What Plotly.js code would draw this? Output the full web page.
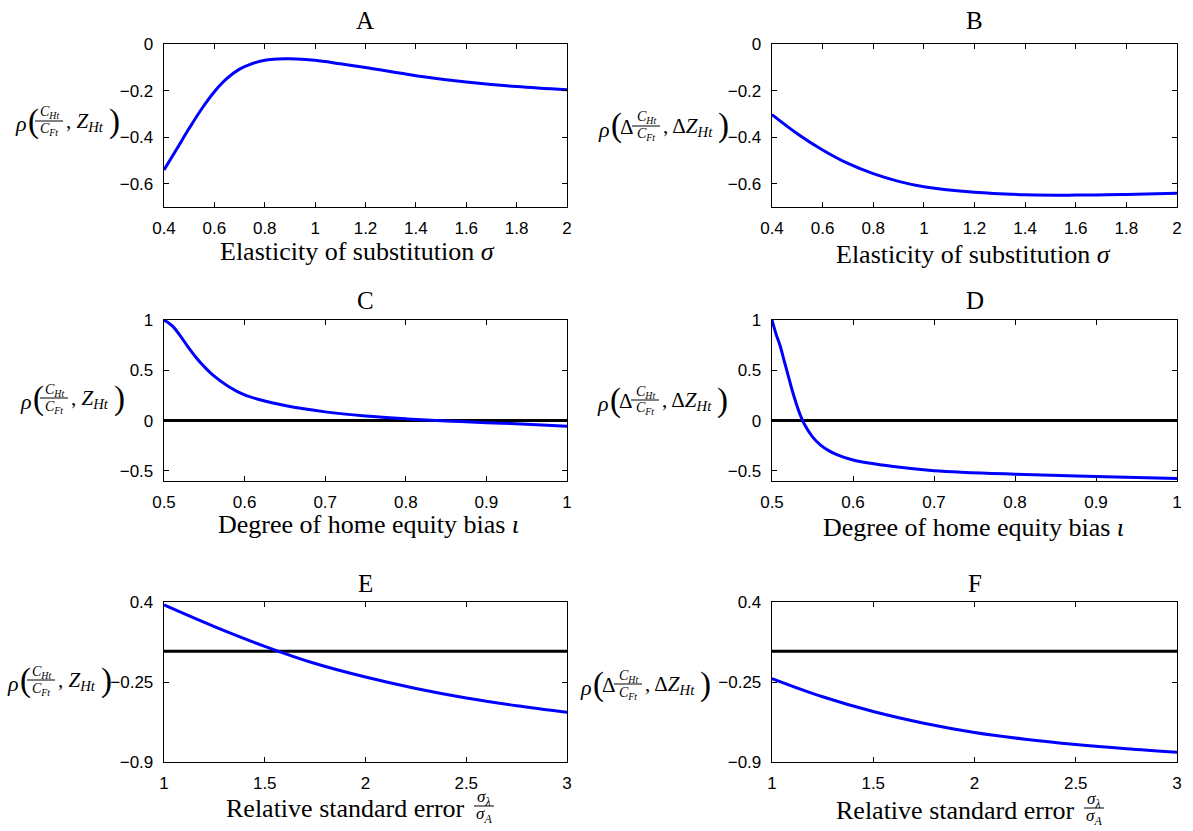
<!DOCTYPE html>
<html>
<head>
<meta charset="utf-8">
<script src="https://cdn.plot.ly/plotly-3.0.1.min.js"></script>
<style>body{margin:0;padding:0;background:#fff;}#chart{width:1193px;height:831px;}</style>
</head>
<body>
<div id="chart"></div>
<script>
// ---------- data ----------
const panelTitles = ['A', 'B', 'C', 'D', 'E', 'F'];

const sigmaA = [0.4, 0.45, 0.5, 0.55, 0.6, 0.65, 0.7, 0.75, 0.8, 0.85, 0.9, 1.0, 1.1, 1.2, 1.4, 1.6, 1.8, 2.0];
const rhoA   = [-0.541, -0.452, -0.362, -0.278, -0.205, -0.148, -0.108, -0.084, -0.07, -0.064, -0.063, -0.07, -0.085, -0.101, -0.136, -0.163, -0.183, -0.197];

const sigmaB = [0.4, 0.5, 0.6, 0.7, 0.8, 0.9, 1.0, 1.2, 1.4, 1.6, 1.8, 2.0];
const rhoB   = [-0.303, -0.385, -0.455, -0.513, -0.557, -0.59, -0.613, -0.637, -0.647, -0.649, -0.646, -0.641];

const iotaC = [0.5, 0.51, 0.52, 0.53, 0.54, 0.55, 0.56, 0.58, 0.6, 0.62, 0.65, 0.7, 0.75, 0.8, 0.85, 0.9, 0.95, 1.0];
const rhoC  = [1.0, 0.944, 0.845, 0.73, 0.625, 0.535, 0.458, 0.34, 0.255, 0.205, 0.15, 0.087, 0.046, 0.018, -0.003, -0.02, -0.036, -0.056];

const iotaD = [0.5, 0.505, 0.51, 0.515, 0.52, 0.525, 0.53, 0.535, 0.54, 0.55, 0.56, 0.57, 0.58, 0.6, 0.65, 0.7, 0.8, 0.9, 1.0];
const rhoD  = [1.0, 0.86, 0.744, 0.595, 0.447, 0.299, 0.168, 0.053, -0.036, -0.161, -0.243, -0.298, -0.338, -0.392, -0.457, -0.497, -0.533, -0.556, -0.576];

const ratioEF = [1, 1.25, 1.5, 1.75, 2, 2.25, 2.5, 2.75, 3];
const rhoE = [0.376, 0.2, 0.04, -0.1, -0.21, -0.303, -0.38, -0.443, -0.496];
const rhoF = [-0.222, -0.37, -0.49, -0.585, -0.66, -0.715, -0.758, -0.792, -0.82];

const zeroLineCD_x = [0.5, 1];
const zeroLineEF_x = [1, 3];
const zeroLine_y = [0, 0];

const xTicksAB = [0.4, 0.6, 0.8, 1, 1.2, 1.4, 1.6, 1.8, 2];
const yTicksAB = [0, -0.2, -0.4, -0.6];
const xTicksCD = [0.5, 0.6, 0.7, 0.8, 0.9, 1];
const yTicksCD = [1, 0.5, 0, -0.5];
const xTicksEF = [1, 1.5, 2, 2.5, 3];
const yTicksEF = [0.4, -0.25, -0.9];

const xTitleAB = 'Elasticity of substitution <i>σ</i>';
const xTitleCD = 'Degree of home equity bias <i>ι</i>';
const xTitleEF = 'Relative standard error';

// ---------- layout helpers ----------
const W = 1193, H = 831;
const SERIF = 'Liberation Serif, DejaVu Serif, serif';
const SANS = 'Liberation Sans, Arial, sans-serif';
const BLUE = 'rgb(0,0,255)';
const px = x => x / W;
const py = y => 1 - y / H;

const cols = [[164, 567], [772, 1177]];
const rows = [[44, 207], [320, 481], [602, 762]];
const titleY = [20, 300, 583];

function ann(x, y, text, size, extra) {
  return Object.assign({
    xref: 'paper', yref: 'paper', x: px(x), y: py(y), text: text,
    showarrow: false, xanchor: 'left', yanchor: 'middle',
    font: {family: SERIF, size: size, color: 'black'}
  }, extra || {});
}

const annotations = [];
const shapes = [];

function frac(cx, cy, num, den, halfw, size) {
  annotations.push(ann(cx, cy - 8, num, size, {xanchor: 'center'}));
  annotations.push(ann(cx, cy + 9, den, size, {xanchor: 'center'}));
  shapes.push({type: 'line', xref: 'paper', yref: 'paper',
    x0: px(cx - halfw), x1: px(cx + halfw), y0: py(cy), y1: py(cy),
    line: {color: 'black', width: 1}});
}

function rhoLabel(x0, yc, delta) {
  annotations.push(ann(x0, yc + 3, '<i>ρ</i>', 22));
  annotations.push(ann(x0 + 13, yc, '(', 33));
  let off = 22;
  if (delta) { annotations.push(ann(x0 + 22, yc + 1, 'Δ', 21)); off = 36; }
  const fc = x0 + off + 14;
  frac(fc, yc, '<i>C<sub>Ht</sub></i>', '<i>C<sub>Ft</sub></i>', 14, 14);
  annotations.push(ann(fc + 15, yc + 1, ',' + (delta ? ' Δ' : ' ') + '<i>Z<sub>Ht</sub></i>', 21));
  annotations.push(ann(fc + 15 + (delta ? 55 : 43), yc, ')', 33));
}

// ---------- traces ----------
const traces = [];
function line(x, y, color, axis) {
  traces.push({x: x, y: y, type: 'scatter', mode: 'lines', xaxis: 'x' + axis, yaxis: 'y' + axis,
    line: {color: color, width: 3, shape: 'spline', smoothing: 1}, hoverinfo: 'skip', showlegend: false});
}
line(sigmaA, rhoA, BLUE, '');
line(sigmaB, rhoB, BLUE, '2');
line(zeroLineCD_x, zeroLine_y, 'black', '3');
line(iotaC, rhoC, BLUE, '3');
line(zeroLineCD_x, zeroLine_y, 'black', '4');
line(iotaD, rhoD, BLUE, '4');
line(zeroLineEF_x, zeroLine_y, 'black', '5');
line(ratioEF, rhoE, BLUE, '5');
line(zeroLineEF_x, zeroLine_y, 'black', '6');
line(ratioEF, rhoF, BLUE, '6');

// ---------- axes ----------
const layout = {
  width: W, height: H, autosize: false,
  margin: {l: 0, r: 0, t: 0, b: 0, pad: 0},
  paper_bgcolor: 'white', plot_bgcolor: 'white',
  showlegend: false, annotations: annotations, shapes: shapes
};

const fmt = v => (v < 0 ? '\u2212' : '') + String(Math.abs(v));

function axisPair(i, xr, yr, xt, yt) {
  const c = cols[i % 2], r = rows[Math.floor(i / 2)];
  const common = {
    showline: true, linecolor: 'black', linewidth: 1.3, mirror: 'allticks',
    ticks: 'inside', ticklen: 5, tickwidth: 1, tickcolor: 'black',
    showgrid: false, zeroline: false, fixedrange: true,
    tickfont: {family: SANS, size: 17, color: 'black'}
  };
  const n = i === 0 ? '' : String(i + 1);
  layout['xaxis' + n] = Object.assign({}, common, {
    domain: [px(c[0]), px(c[1])], range: xr, tickvals: xt, ticktext: xt.map(fmt),
    anchor: 'y' + n, ticklabelstandoff: 5
  });
  layout['yaxis' + n] = Object.assign({}, common, {
    domain: [py(r[1]), py(r[0])], range: yr, tickvals: yt, ticktext: yt.map(fmt),
    anchor: 'x' + n, ticklabelstandoff: 6
  });
  annotations.push(ann((c[0] + c[1]) / 2, titleY[Math.floor(i / 2)], panelTitles[i], 25, {xanchor: 'center'}));
}
axisPair(0, [0.4, 2], [-0.7, 0], xTicksAB, yTicksAB);
axisPair(1, [0.4, 2], [-0.7, 0], xTicksAB, yTicksAB);
axisPair(2, [0.5, 1], [-0.6, 1], xTicksCD, yTicksCD);
axisPair(3, [0.5, 1], [-0.6, 1], xTicksCD, yTicksCD);
axisPair(4, [1, 3], [-0.9, 0.4], xTicksEF, yTicksEF);
axisPair(5, [1, 3], [-0.9, 0.4], xTicksEF, yTicksEF);

// x titles
annotations.push(ann(357, 252, xTitleAB, 26, {xanchor: 'center'}));
annotations.push(ann(973, 255, xTitleAB, 26, {xanchor: 'center'}));
annotations.push(ann(368, 524, xTitleCD, 26, {xanchor: 'center'}));
annotations.push(ann(973, 527, xTitleCD, 26, {xanchor: 'center'}));
annotations.push(ann(467, 808, xTitleEF, 26, {xanchor: 'right'}));
annotations.push(ann(1077, 810, xTitleEF, 26, {xanchor: 'right'}));
frac(484, 806, '<i>σ<sub>λ</sub></i>', '<i>σ<sub>A</sub></i>', 10, 17);
frac(1094, 808, '<i>σ<sub>λ</sub></i>', '<i>σ<sub>A</sub></i>', 10, 17);

// y labels
rhoLabel(13, 121, false);
rhoLabel(596, 126, true);
rhoLabel(18, 398, false);
rhoLabel(595, 400, true);
rhoLabel(5, 680, false);
rhoLabel(578, 684, true);

Plotly.newPlot('chart', traces, layout, {staticPlot: true, displayModeBar: false});
</script>
</body>
</html>
